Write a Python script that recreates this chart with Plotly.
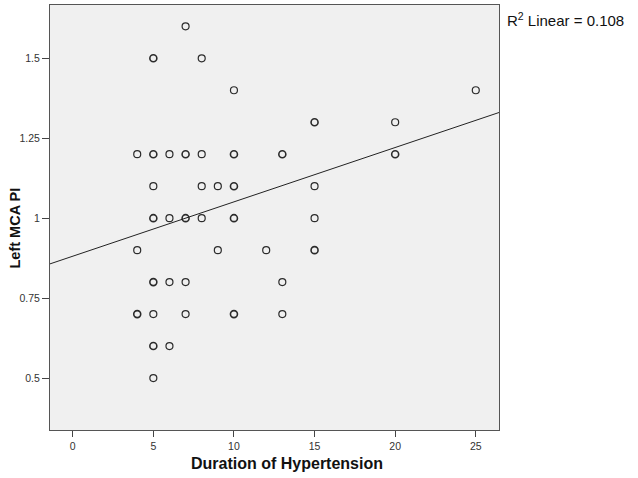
import plotly.graph_objects as go
from collections import Counter

# Data (duplicates indicate overlapping cases)
duration = [4, 4, 4, 4,
            5, 5, 5, 5, 5, 5, 5, 5, 5, 5, 5, 5, 5,
            6, 6, 6, 6,
            7, 7, 7, 7, 7, 7, 7,
            8, 8, 8, 8,
            9, 9,
            10, 10, 10, 10, 10, 10, 10, 10, 10,
            12,
            13, 13, 13, 13,
            15, 15, 15, 15, 15, 15,
            20, 20, 20,
            25]
left_mca_pi = [1.2, 0.9, 0.7, 0.7,
               1.5, 1.5, 1.2, 1.2, 1.1, 1.0, 1.0, 0.8, 0.8, 0.7, 0.6, 0.6, 0.5,
               1.2, 1.0, 0.8, 0.6,
               1.6, 1.2, 1.2, 1.0, 1.0, 0.8, 0.7,
               1.5, 1.2, 1.1, 1.0,
               1.1, 0.9,
               1.4, 1.2, 1.2, 1.1, 1.1, 1.0, 1.0, 0.7, 0.7,
               0.9,
               1.2, 1.2, 0.8, 0.7,
               1.3, 1.3, 1.1, 1.0, 0.9, 0.9,
               1.3, 1.2, 1.2,
               1.4]

# Fit line as drawn in the reference
fit_intercept = 0.881
fit_slope = 0.0170
r2_label = "R<sup>2</sup> Linear = 0.108"

x_ticks = [0, 5, 10, 15, 20, 25]
y_ticks = [0.5, 0.75, 1, 1.25, 1.5]
y_tick_text = ["0.5", "0.75", "1", "1.25", "1.5"]

x_range = [-1.41, 26.44]
y_range = [0.3375, 1.6667]

counts = Counter(zip(duration, left_mca_pi))
ux = [k[0] for k in counts]
uy = [k[1] for k in counts]
lw = [1.6 if counts[k] > 1 else 1.2 for k in counts]

fig = go.Figure()
fig.add_trace(go.Scatter(
    x=ux, y=uy, mode="markers",
    marker=dict(symbol="circle-open", size=7, color="#2b2b2b",
                line=dict(width=lw, color="#2b2b2b")),
    showlegend=False, hoverinfo="x+y"))

line_x = x_range
line_y = [fit_intercept + fit_slope * v for v in line_x]
fig.add_trace(go.Scatter(
    x=line_x, y=line_y, mode="lines",
    line=dict(color="#222222", width=1), showlegend=False, hoverinfo="skip"))

fig.update_layout(
    width=638, height=478,
    margin=dict(l=50, r=139, t=5, b=48),
    paper_bgcolor="white", plot_bgcolor="#f0f0f0",
    font=dict(family="Liberation Sans, Arial, sans-serif", color="#333333"),
    showlegend=False,
)
fig.update_xaxes(
    range=x_range, tickvals=x_ticks, ticks="outside", ticklen=6,
    tickcolor="#444", tickwidth=1, showgrid=False, zeroline=False,
    showline=True, mirror=True, linecolor="#555555", linewidth=1,
    tickfont=dict(size=10.5, color="#333"))
fig.update_yaxes(
    range=y_range, tickvals=y_ticks, ticktext=y_tick_text, ticks="outside",
    ticklen=7, tickcolor="#444", tickwidth=1, showgrid=False, zeroline=False,
    showline=True, mirror=True, linecolor="#555555", linewidth=1,
    tickfont=dict(size=10.5, color="#333"))

fig.add_annotation(text="<b>Duration of Hypertension</b>", xref="paper", yref="paper",
                   x=0.5, y=-0.078, xanchor="center", yanchor="middle",
                   xshift=12, showarrow=False,
                   font=dict(size=16, color="#111"))
fig.add_annotation(text="<b>Left MCA PI</b>", xref="paper", yref="paper",
                   x=0, y=0.5, xanchor="center", yanchor="middle",
                   xshift=-36, yshift=-11, textangle=-90, showarrow=False,
                   font=dict(size=14.5, color="#111"))
fig.add_annotation(text=r2_label, xref="paper", yref="paper",
                   x=1, y=1, xanchor="left", yanchor="top",
                   xshift=6, yshift=-3, showarrow=False,
                   font=dict(size=15, color="#111"))

fig.write_html("out.html", config={"displayModeBar": False},
               post_script="document.body.style.margin='0';document.body.style.padding='0';")
